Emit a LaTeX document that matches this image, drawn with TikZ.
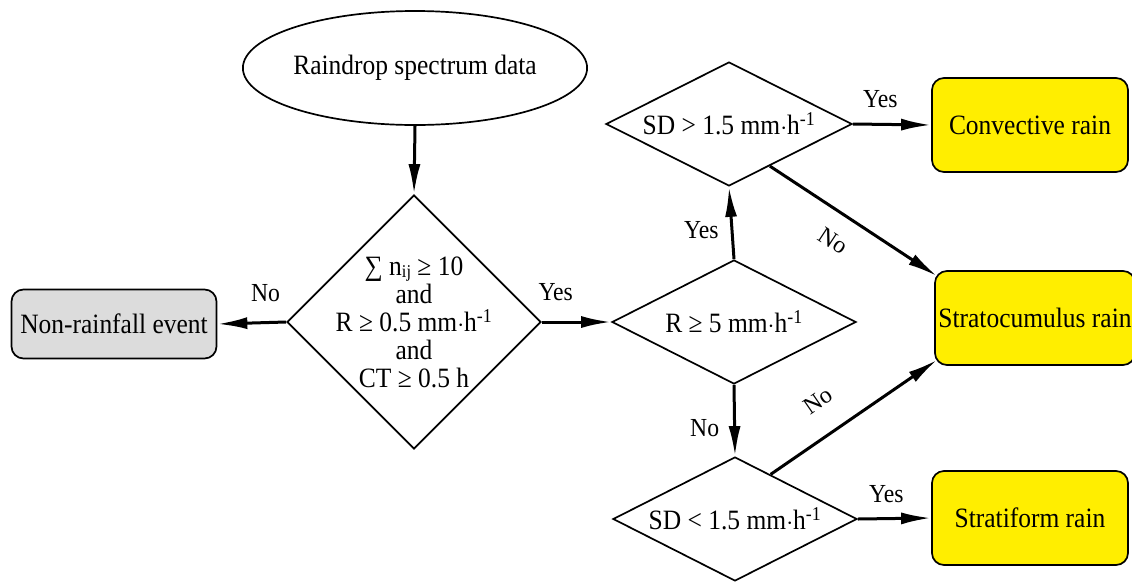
\documentclass[tikz,border=0pt]{standalone}
\usepackage{fontspec}
\setmainfont{Liberation Serif}[FakeStretch=0.91]
\newfontfamily\uprightserif{Liberation Serif}
\usetikzlibrary{shapes.geometric,arrows.meta,calc}

\definecolor{rainyellow}{RGB}{255,238,0}
\definecolor{eventgray}{RGB}{220,220,220}

\newcommand{\perhour}{mm$\cdot$h\textsuperscript{-1}}

\begin{document}
\begin{tikzpicture}[x=1pt,y=-1pt,
  txt/.style={font=\fontsize{28}{28}\selectfont},
  lab/.style={font=\fontsize{26}{26}\selectfont,inner sep=0pt},
  slantlab/.style={font=\uprightserif\fontsize{24}{24}\selectfont,inner sep=0pt},
  decision/.style={draw,diamond,line width=1.7pt,inner sep=0pt},
  outcome/.style={draw,rounded corners=12pt,line width=1.7pt,fill=rainyellow,
    minimum width=196pt,minimum height=94pt,txt},
  arr/.style={line width=3pt,-{Latex[length=30pt,width=12pt]}}]

\useasboundingbox (0,0) rectangle (1132,582);

% start and first test
\node[draw,ellipse,line width=1.7pt,minimum width=274pt,minimum height=114pt,
  inner sep=0pt,txt] (src) at (415,68) {Raindrop spectrum data};
\node[decision,minimum width=254pt,minimum height=254pt] (d1) at (414,322) {};
\node[txt,align=center] (d1t) at (d1.center)
  {∑ n{\fontsize{18}{18}\selectfont\raisebox{-2pt}{ij}} ≥ 10\\ and\\
   R ≥ 0.5 \perhour\\ and\\ CT ≥ 0.5 h};

\node[draw,rounded corners=12pt,line width=1.7pt,fill=eventgray,
  minimum width=205pt,minimum height=69pt,txt] (non) at (114,324) {Non-rainfall event};

% intensity and SD tests
\node[decision,minimum width=244pt,minimum height=124pt] (d2) at (734,322) {};
\node[txt] at (d2.center) {R ≥ 5 \perhour};
\node[decision,minimum width=246pt,minimum height=124pt] (d3) at (729,124) {};
\node[txt] at (d3.center) {SD > 1.5 \perhour};
\node[decision,minimum width=244pt,minimum height=124pt] (d4) at (735,519) {};
\node[txt] at (d4.center) {SD < 1.5 \perhour};

% rain types
\node[outcome] (cv) at (1030,125) {Convective rain};
\node[outcome,minimum width=200pt] (sc) at (1035,318) {Stratocumulus rain};
\node[outcome] (sf) at (1030,518) {Stratiform rain};

% connectors
\draw[arr] (src.south) -- (d1.north);
\draw[arr] (d1.west) -- (non.east) node[lab,pos=0.3,above=29pt,anchor=center] {No};
\draw[arr] (d1.east) -- (d2.west) node[lab,pos=0.2,above=30pt,anchor=center] {Yes};
\draw[arr] (d2.north) -- (d3.south) node[lab,pos=0.4,left=12pt] {Yes};
\draw[arr] (d3.east) -- (cv.west) node[lab,pos=0.35,above=25pt,anchor=center] {Yes};
\draw[arr] (d2.south) -- (d4.north) node[lab,pos=0.6,left=14pt] {No};
\draw[arr] (d4.east) -- (sf.west) node[lab,pos=0.39,above=25pt,anchor=center] {Yes};
\draw[arr] ($(d3.south)!0.33!(d3.east)$) -- ($(sc.north west)+(3,6)$)
  node[slantlab,pos=0.47,sloped,below=18pt] {No};
\draw[arr] ($(d4.north)!0.29!(d4.east)$) -- ($(sc.south west)+(3,-6)$)
  node[slantlab,pos=0.4,sloped,above=24pt] {No};
\end{tikzpicture}
\end{document}
